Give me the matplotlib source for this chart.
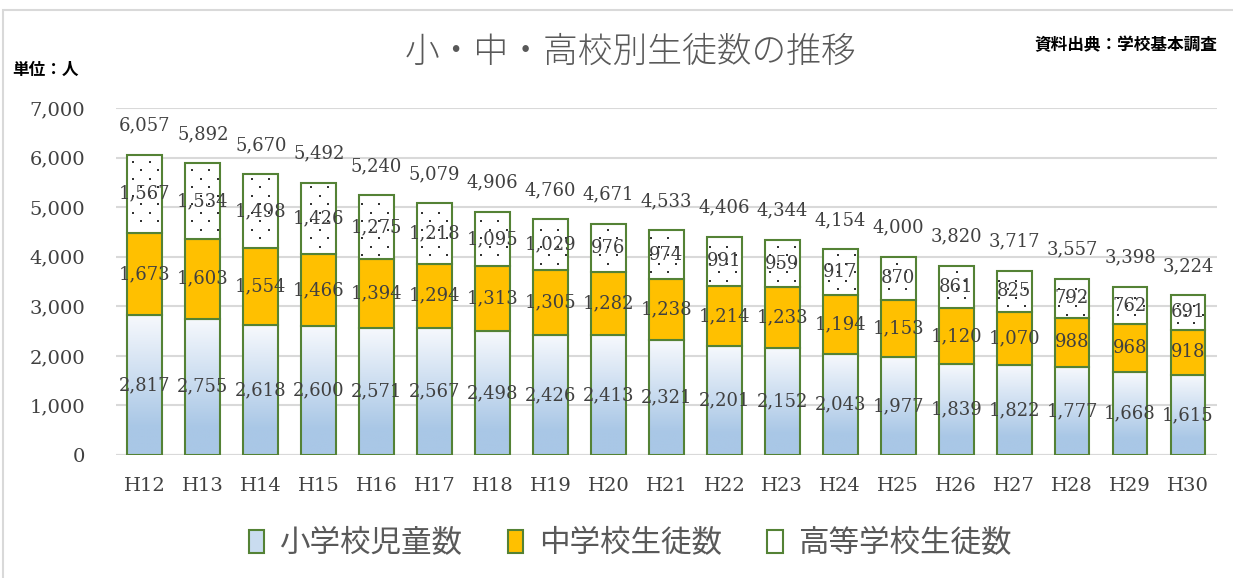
import numpy as np
import matplotlib
matplotlib.use('Agg')
import matplotlib.pyplot as plt
import matplotlib.ticker as ticker
from matplotlib.patches import Patch, Rectangle
from matplotlib.colors import to_rgb

# データ（単位：人）
years = ['H12', 'H13', 'H14', 'H15', 'H16', 'H17', 'H18', 'H19', 'H20', 'H21',
         'H22', 'H23', 'H24', 'H25', 'H26', 'H27', 'H28', 'H29', 'H30']
elem = [2817, 2755, 2618, 2600, 2571, 2567, 2498, 2426, 2413, 2321,
        2201, 2152, 2043, 1977, 1839, 1822, 1777, 1668, 1615]
middle = [1673, 1603, 1554, 1466, 1394, 1294, 1313, 1305, 1282, 1238,
          1214, 1233, 1194, 1153, 1120, 1070, 988, 968, 918]
high = [1567, 1534, 1498, 1426, 1275, 1218, 1095, 1029, 976, 974,
        991, 959, 917, 870, 861, 825, 792, 762, 691]
series_names = ['小学校児童数', '中学校生徒数', '高等学校生徒数']
yticks = [0, 1000, 2000, 3000, 4000, 5000, 6000, 7000]

plt.rcParams['font.family'] = ['DejaVu Serif']
cjk = ['Noto Sans CJK JP', 'DejaVu Sans']

green = '#548235'
orange = '#FFC000'
txt = '#404040'

fig = plt.figure(figsize=(12.33, 5.78), dpi=100)
ax = fig.add_axes([0.094, 0.2128, 0.893, 0.600])

x = np.arange(len(years))
w = 0.6
elem_a = np.array(elem)
mid_a = np.array(middle)
high_a = np.array(high)
total = elem_a + mid_a + high_a
bot2 = elem_a + mid_a

# 小学校：グラデーション
bars_e = ax.bar(x, elem_a, w, color='none', edgecolor=green, lw=1.5, zorder=3)
c_top = np.array(to_rgb('#f7f9fd'))
c_bot = np.array(to_rgb('#a9c7e6'))
t = np.clip(np.linspace(0, 1, 200) / 0.8, 0, 1)
grad = (c_top[None, :] * (1 - t[:, None]) + c_bot[None, :] * t[:, None])[:, None, :]
for b in bars_e:
    ax.imshow(grad, extent=[b.get_x(), b.get_x() + b.get_width(), 0, b.get_height()],
              aspect='auto', zorder=2, interpolation='bilinear')

# 中学校
ax.bar(x, mid_a, w, bottom=elem_a, color=orange, edgecolor=green, lw=1.5, zorder=3)

# 高等学校：白地に点模様
bars_h = ax.bar(x, high_a, w, bottom=bot2, color='white', edgecolor=green, lw=1.5, zorder=3)

# 点模様（互い違いの格子）
dx = 17 / 58.0
dy = 8.5 / 347 * 7000
rows = np.arange(dy / 2, 7000, dy)
px, py = [], []
for k, yy in enumerate(rows):
    cols = np.arange(-0.5 + (dx / 2 if k % 2 else 0), len(years), dx)
    px.extend(cols)
    py.extend([yy] * len(cols))
px = np.array(px)
py = np.array(py)
for b in bars_h:
    x0, x1 = b.get_x(), b.get_x() + b.get_width()
    y0, y1 = b.get_y(), b.get_y() + b.get_height()
    m = (px > x0 + 0.03) & (px < x1 - 0.03) & (py > y0 + 60) & (py < y1 - 60)
    ax.scatter(px[m], py[m], s=1.8, color='#333333', marker='s', lw=0, zorder=3.5)

# ラベル
for i in range(len(years)):
    ax.text(x[i], elem_a[i] / 2, f'{elem_a[i]:,}', ha='center', va='center',
            fontsize=13, color=txt, zorder=5)
    ax.text(x[i], elem_a[i] + mid_a[i] / 2, f'{mid_a[i]:,}', ha='center', va='center',
            fontsize=13, color=txt, zorder=5)
    ax.text(x[i], bot2[i] + high_a[i] / 2, f'{high_a[i]:,}', ha='center', va='center',
            fontsize=13, color=txt, zorder=5)
    ax.annotate(f'{total[i]:,}', (x[i], total[i]), xytext=(0, 21),
                textcoords='offset points', ha='center', va='center',
                fontsize=13, color=txt, zorder=5)

ax.set_xlim(-0.5, len(years) - 0.5)
ax.set_ylim(0, 7000)
ax.set_xticks(x)
ax.set_xticklabels(years)
ax.set_yticks(yticks)
ax.yaxis.set_major_formatter(ticker.FuncFormatter(lambda v, p: f'{int(v):,}'))
ax.tick_params(axis='both', length=0, labelsize=14, labelcolor=txt)
ax.tick_params(axis='y', pad=22)
ax.tick_params(axis='x', pad=16)
for s in ax.spines.values():
    s.set_visible(False)
ax.set_axisbelow(True)
ax.grid(axis='y', color='#d9d9d9', lw=1.5, zorder=0)
ax.axhline(0, color='#d9d9d9', lw=1.5, zorder=1)

# タイトルと注記
fig.text(0.511, 0.91, '小・中・高校別生徒数の推移', ha='center', va='center',
         fontsize=25, family=cjk, color='#595959', weight='light')
fig.text(0.987, 0.922, '資料出典：学校基本調査', ha='right', va='center',
         fontsize=12, family=cjk, weight='bold', color='black')
fig.text(0.0097, 0.879, '単位：人', ha='left', va='center',
         fontsize=12, family=cjk, weight='bold', color='black')

# 凡例
handles = [
    Patch(facecolor='#c9dcf0', edgecolor=green, lw=1.5),
    Patch(facecolor=orange, edgecolor=green, lw=1.5),
    Patch(facecolor='white', edgecolor=green, lw=1.5),
]
leg = fig.legend(handles, series_names, loc='center', bbox_to_anchor=(0.511, 0.06),
                 ncol=3, frameon=False, prop={'family': cjk, 'size': 22},
                 handlelength=0.5, handleheight=0.8, handletextpad=0.5,
                 columnspacing=1.5)
for t_ in leg.get_texts():
    t_.set_color('#595959')

# 枠線
fig.add_artist(Rectangle((3 / 1233, -0.05), 1.1, (578 - 10) / 578 + 0.05,
                         transform=fig.transFigure, fill=False,
                         edgecolor='#d9d9d9', lw=1.5))

fig.savefig('out.png', dpi=100)
